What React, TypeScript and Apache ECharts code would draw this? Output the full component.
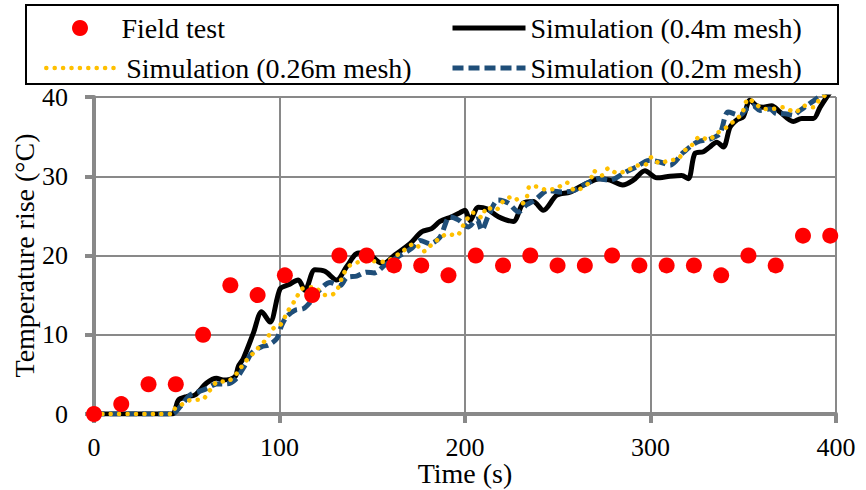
import React, { useEffect, useRef } from "react";
import * as echarts from "echarts";

const FONT = "Liberation Serif";

const xTicks = [0, 100, 200, 300, 400];
const yTicks = [0, 10, 20, 30, 40];

const seriesNames = [
  "Field test",
  "Simulation (0.4m mesh)",
  "Simulation (0.26m mesh)",
  "Simulation (0.2m mesh)",
];

const fieldTime = [0, 14.7, 29.4, 44.1, 58.8, 73.5, 88.2, 102.9, 117.6, 132.3, 147, 161.7, 176.4, 191.1, 205.8, 220.5, 235.2, 249.9, 264.6, 279.3, 294, 308.7, 323.4, 338.1, 352.8, 367.5, 382.2, 396.9];
const fieldTemp = [0, 1.25, 3.75, 3.75, 10, 16.25, 15, 17.5, 15, 20, 20, 18.75, 18.75, 17.5, 20, 18.75, 20, 18.75, 18.75, 20, 18.75, 18.75, 18.75, 17.5, 20, 18.75, 22.5, 22.5];

const sim04Time = [0, 42, 45.5, 50, 54.4, 60.7, 66, 69.6, 76, 77.8, 80.5, 85.9, 90.4, 94.9, 100.3, 104.8, 110.1, 113.7, 119.1, 124.5, 130.8, 136.2, 142.5, 147, 153.3, 156, 162.3, 170.4, 176.7, 182, 186.5, 192.8, 197.3, 200, 202.7, 207.2, 211.7, 218, 226, 231.4, 236.8, 242.2, 249.4, 256.6, 263.8, 272.8, 278.2, 285, 290.7, 297, 303.4, 310.5, 316.8, 320.4, 324, 328.5, 332, 335.7, 339.3, 342.9, 346.5, 350, 353.6, 357.2, 360.8, 365.3, 369.8, 377, 381.5, 387.8, 391.4, 395, 398];
const sim04Temp = [0, 0, 1.75, 2.2, 2.4, 3.9, 4.5, 4.3, 4.7, 6.0, 7.0, 10.2, 12.9, 11.6, 15.8, 16.3, 16.9, 15.6, 18.2, 18.0, 16.9, 18.6, 20.3, 20.3, 19.2, 19.0, 20.1, 21.5, 23.0, 23.4, 24.3, 24.9, 25.4, 25.7, 24.4, 26.1, 25.9, 24.9, 24.3, 26.6, 26.8, 25.7, 27.6, 28.0, 28.9, 29.7, 29.5, 28.9, 29.5, 30.7, 29.8, 30.0, 30.1, 29.7, 32.9, 33.1, 33.7, 34.3, 33.7, 36.2, 37.1, 37.5, 39.6, 38.9, 38.7, 38.9, 38.1, 36.9, 37.3, 37.3, 38.7, 40.0, 41];

const sim026Time = [0, 42, 43.7, 48.2, 52.7, 58, 62.5, 67, 71.5, 76.9, 79.6, 82.3, 86.8, 93.1, 96.7, 100.3, 104.8, 108.8, 112.1, 118.4, 124.7, 130.1, 134.6, 138.2, 143.5, 148.9, 156, 165, 173, 177.5, 181.1, 191, 195.5, 199.1, 204.5, 209, 211.7, 216.2, 221.6, 226.1, 230.5, 233.2, 235, 238.6, 244, 249.4, 254.8, 259.3, 267.4, 269.2, 273.7, 277.3, 281.8, 287.2, 292, 297, 300.6, 305.1, 309.6, 315, 317.7, 322.2, 326.7, 331.2, 335.7, 341.1, 344.7, 349.2, 352.8, 356.4, 360.8, 366.2, 371.6, 377.9, 383.3, 387.8, 391.4, 394, 398];
const sim026Temp = [0, 0, 0.7, 1.3, 1.8, 1.8, 3.0, 4.1, 4.1, 5.1, 6.0, 6.8, 7.9, 9.5, 10.8, 11.2, 13.1, 14.5, 15.8, 16.0, 15.0, 15.3, 17.7, 18.8, 19.2, 19.3, 19.2, 20.3, 21.5, 20.5, 21.2, 22.7, 22.5, 23.8, 25.4, 24.8, 26.1, 25.7, 27.1, 27.4, 26.5, 27.3, 28.8, 28.7, 28.3, 28.5, 29.2, 28.2, 29.3, 30.7, 30.1, 31.0, 30.4, 30.7, 31.3, 31.4, 32.4, 31.6, 32.0, 32.2, 33.1, 33.9, 35.0, 34.6, 35.4, 36.2, 36.9, 37.9, 39.8, 39.2, 38.5, 38.5, 38.7, 38.1, 38.9, 38.7, 39.8, 40.2, 41];

const sim02Time = [0, 42, 46.4, 51.8, 56.3, 60.7, 66.1, 71.5, 76, 80.5, 85, 90.4, 94, 98.5, 101.2, 103.9, 108.4, 112.9, 116.5, 121.9, 127.2, 132.6, 136.2, 141.6, 147, 151, 156.9, 165, 171.3, 175.8, 181.1, 186.5, 191.9, 196.4, 201.8, 206.3, 209, 212.6, 218, 223.4, 228.8, 233.2, 237.7, 244.9, 252.1, 258.4, 265.6, 271.9, 278.2, 283.6, 287.2, 292.6, 299, 305, 310.5, 317.7, 324.9, 332.1, 337.4, 341.9, 348.2, 351.8, 355.4, 359, 364.4, 368, 372.5, 377, 380.6, 384.2, 389.6, 392.3, 396];
const sim02Temp = [0, 0, 0.9, 2.4, 2.8, 3.2, 3.8, 3.8, 4.3, 5.8, 7.7, 8.5, 8.7, 9.5, 11.2, 12.3, 13.1, 13.3, 14.1, 15.7, 16.6, 16.2, 17.2, 17.4, 17.9, 17.8, 18.8, 20.0, 20.9, 21.9, 21.5, 22.3, 24.9, 24.5, 23.6, 24.6, 23.2, 25.0, 27.0, 26.6, 25.5, 26.4, 27.0, 28.2, 28.0, 28.2, 29.1, 29.7, 29.5, 30.1, 30.6, 31.2, 32.0, 31.8, 31.4, 33.0, 34.3, 34.7, 35.4, 38.1, 37.7, 38.5, 38.9, 38.3, 38.5, 37.9, 37.9, 37.7, 38.3, 38.9, 39.8, 40.2, 41];

const zip = (xs: number[], ys: number[]) => xs.map((x, i) => [x, ys[i]]);

const GRAY = "#898989";
const BLACK_STYLE = { color: "#000", width: 5, type: "solid" as const };
const BLUE_STYLE = { color: "#1F4E79", width: 5, type: [11, 5] };
const YELLOW_STYLE = { color: "#FFC000", width: 4.5, type: [0.1, 8.3], cap: "round" as const };

export default function App() {
  const ref = useRef<HTMLDivElement>(null);
  useEffect(() => {
    if (!ref.current) return;
    const chart = echarts.init(ref.current, undefined, { renderer: "svg" });
    const legendText = { fontFamily: FONT, fontSize: 28, color: "#000" };
    const mkLineLegend = (name: string, left: number, top: number, itemWidth: number, ls: any) => ({
      data: [name],
      left,
      top,
      itemWidth,
      itemHeight: 16,
      itemGap: 0,
      padding: 0,
      selectedMode: false,
      textStyle: legendText,
      itemStyle: { opacity: 0 },
      lineStyle: { ...ls, opacity: 1 },
    });
    chart.setOption({
      animation: false,
      backgroundColor: "#fff",
      grid: { left: 94, right: 30, top: 97, bottom: 76, containLabel: false, outerBoundsMode: "none" },
      graphic: [
        {
          type: "rect",
          z: 0,
          shape: { x: 26, y: 5, width: 812, height: 79 },
          style: { fill: "#fff", stroke: "#000", lineWidth: 2 },
        },
      ],
      legend: [
        {
          data: [{ name: seriesNames[0], icon: "circle" }],
          left: 72,
          top: 14,
          itemWidth: 73,
          itemHeight: 16,
          itemGap: 0,
          padding: 0,
          selectedMode: false,
          textStyle: legendText,
          itemStyle: { color: "#FF0000", opacity: 1 },
        },
        mkLineLegend(seriesNames[1], 450, 14, 73, BLACK_STYLE),
        mkLineLegend(seriesNames[2], 44, 54, 75, YELLOW_STYLE),
        mkLineLegend(seriesNames[3], 450, 54, 73, BLUE_STYLE),
      ],
      xAxis: {
        type: "value",
        min: xTicks[0],
        max: xTicks[xTicks.length - 1],
        interval: 100,
        name: "Time (s)",
        nameLocation: "middle",
        nameGap: 45,
        nameMoveOverlap: false,
        nameTextStyle: { fontFamily: FONT, fontSize: 28, color: "#000" },
        axisLine: { lineStyle: { color: GRAY, width: 4 } },
        axisTick: { show: true, inside: false, length: 9, lineStyle: { color: GRAY, width: 4 } },
        axisLabel: { fontFamily: FONT, fontSize: 26, color: "#000", margin: 20 },
        splitLine: { show: true, lineStyle: { color: GRAY, width: 2 } },
      },
      yAxis: {
        type: "value",
        min: yTicks[0],
        max: yTicks[yTicks.length - 1],
        interval: 10,
        name: "Temperature rise (°C)",
        nameLocation: "middle",
        nameGap: 56,
        nameMoveOverlap: false,
        nameTextStyle: { fontFamily: FONT, fontSize: 28, color: "#000" },
        axisLine: { show: true, lineStyle: { color: GRAY, width: 4 } },
        axisTick: { show: true, inside: false, length: 9, lineStyle: { color: GRAY, width: 4 } },
        axisLabel: { fontFamily: FONT, fontSize: 26, color: "#000", margin: 26 },
        splitLine: { show: true, lineStyle: { color: GRAY, width: 2 } },
      },
      series: [
        {
          name: seriesNames[1],
          type: "line",
          data: zip(sim04Time, sim04Temp),
          symbol: "none",
          smooth: 0.3,
          z: 2,
          lineStyle: { ...BLACK_STYLE, join: "round" },
          itemStyle: { color: "#000" },
        },
        {
          name: seriesNames[3],
          type: "line",
          data: zip(sim02Time, sim02Temp),
          symbol: "none",
          smooth: 0.3,
          z: 3,
          lineStyle: BLUE_STYLE,
          itemStyle: { color: "#1F4E79" },
        },
        {
          name: seriesNames[2],
          type: "line",
          data: zip(sim026Time, sim026Temp),
          symbol: "none",
          smooth: 0.3,
          z: 4,
          lineStyle: YELLOW_STYLE,
          itemStyle: { color: "#FFC000" },
        },
        {
          name: seriesNames[0],
          type: "scatter",
          data: zip(fieldTime, fieldTemp),
          symbol: "circle",
          symbolSize: 16,
          z: 5,
          itemStyle: { color: "#FF0000", opacity: 1 },
        },
      ],
    });
    return () => chart.dispose();
  }, []);
  return (
    <div
      ref={ref}
      style={{ position: "fixed", left: 0, top: 0, width: 866, height: 490 }}
    />
  );
}
